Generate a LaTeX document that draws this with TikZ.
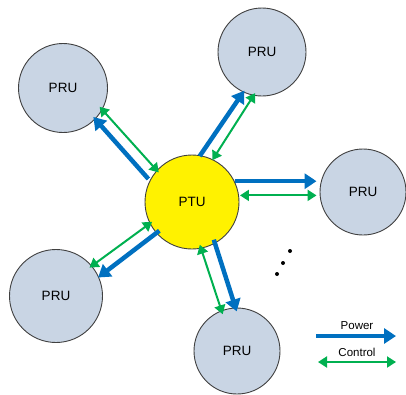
\documentclass[tikz,border=0pt]{standalone}
\usepackage{fontspec}
\setmainfont{Liberation Sans}
\usetikzlibrary{arrows.meta}
\definecolor{prufill}{RGB}{201,213,228}
\definecolor{pblue}{RGB}{0,112,192}
\definecolor{cgreen}{RGB}{0,176,80}
\tikzset{
  unit/.style={circle, draw=black!75, line width=0.9pt, inner sep=0pt, font=\fontsize{13.5}{15}\selectfont},
  pru/.style={unit, fill=prufill, minimum size=88pt},
  ptu/.style={unit, fill=yellow, minimum size=94pt},
  power/.style={draw=pblue, line width=4.5pt, -{Triangle[length=12pt,width=15pt]}, shorten >=1pt},
  control/.style={draw=cgreen, line width=2pt, {Triangle[length=9pt,width=11pt]}-{Triangle[length=9pt,width=11pt]}},
  legtext/.style={font=\fontsize{11.5}{13}\selectfont, inner sep=0pt},
  dotmark/.style={circle, fill=black, inner sep=0pt, minimum size=4pt}
}
\begin{document}
\begin{tikzpicture}[x=1pt,y=-1pt]
\useasboundingbox (0,0) rectangle (406,394);
\node[ptu] (ptu) at (192,202) {PTU};
\node[pru, minimum size=89pt] (p1) at (63,88) {PRU};
\node[pru] (p2) at (262,52) {PRU};
\node[pru, minimum size=86pt] (p3) at (363,192) {PRU};
\node[pru, minimum size=93pt] (p4) at (56,296) {PRU};
\node[pru, minimum size=86pt] (p5) at (237,351) {PRU};
% top-left
\draw[power, shorten <=2pt, shorten >=-3pt] (ptu.153) -- (p1.-44);
\draw[control, shorten <=-3pt, shorten >=-4pt] (ptu.138) -- (p1.-29);
% top-right
\draw[power, shorten <=-1pt, shorten >=-2pt] (ptu.80) -- (p2.-115);
\draw[control, shorten <=-1pt, shorten >=-3pt] (ptu.64) -- (p2.-101);
% right
\draw[power, shorten >=3pt] (ptu.26) -- (ptu.26 -| p3.west);
\draw[control, shorten >=3pt, shorten <=1pt] (ptu.8) -- (ptu.8 -| p3.west);
% bottom-left
\draw[control, shorten <=-3pt, shorten >=-3pt] (ptu.207) -- (p4.40);
\draw[power, shorten <=-4pt, shorten >=-1pt] (ptu.221) -- (p4.24);
% bottom
\draw[control, shorten <=-4pt, shorten >=-4pt] (ptu.-79) -- (p5.111);
\draw[power, shorten <=-4pt, shorten >=-4pt] (ptu.-61) -- (p5.92);
% dots
\node[dotmark] (d1) at (290,251) {};
\node[dotmark] (d2) at (283,263) {};
\node[dotmark] (d3) at (277,274) {};
% legend
\coordinate (lpa) at (316,336);
\coordinate (lpb) at (396,336);
\coordinate (lca) at (318,362);
\coordinate (lcb) at (396,362);
\draw[power, shorten >=0pt] (lpa) -- (lpb);
\draw[control] (lca) -- (lcb);
\node[legtext] (lp) at (357,326) {Power};
\node[legtext] (lc) at (357,352) {Control};
\end{tikzpicture}
\end{document}
